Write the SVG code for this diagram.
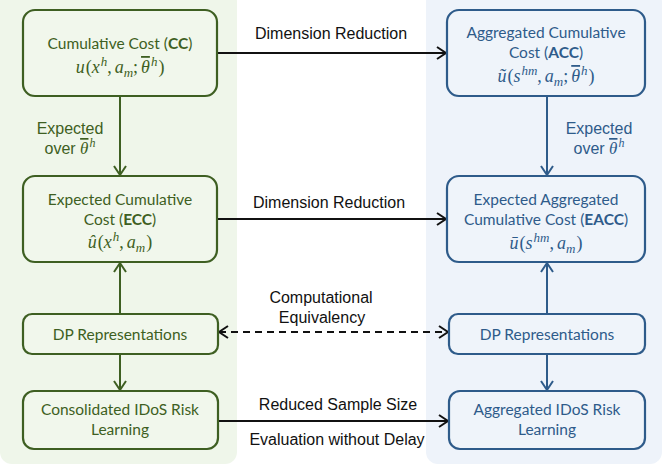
<svg xmlns="http://www.w3.org/2000/svg" width="664" height="465" viewBox="0 0 664 465">
<defs>
<style>
.gpanel{fill:#eff6ea}
.bpanel{fill:#eef3fa}
.gnode{fill:#f1f7ec;stroke:#3e5f22;stroke-width:2.2}
.bnode{fill:#eff4fa;stroke:#2e5b8a;stroke-width:2.2}
.gt{fill:#3e5f22;font-family:Lato,"Open Sans",sans-serif;font-size:15.5px;text-anchor:middle}
.bt{fill:#2e5b8a;font-family:Lato,"Open Sans",sans-serif;font-size:15.5px;text-anchor:middle}
.gm{fill:#3e5f22;font-family:"Liberation Serif",serif;font-style:italic;font-size:18px;text-anchor:middle}
.bm{fill:#2e5b8a;font-family:"Liberation Serif",serif;font-style:italic;font-size:18px;text-anchor:middle}
.up{font-style:normal}
.sp{font-size:13px}
.th{font-family:"Liberation Serif",serif;font-style:italic;text-decoration:overline}
.el{fill:#111;font-family:"Liberation Sans",Arial,sans-serif;font-size:16px;text-anchor:middle}
.gl{fill:#3e5f22;font-family:"Liberation Sans",Arial,sans-serif;font-size:16px;text-anchor:middle}
.bl{fill:#2e5b8a;font-family:"Liberation Sans",Arial,sans-serif;font-size:16px;text-anchor:middle}
.c{fill:none;stroke:#111;stroke-width:2}
.cg{fill:none;stroke:#3e5f22;stroke-width:2}
.cb{fill:none;stroke:#2e5b8a;stroke-width:2}
</style>
<marker id="ak" markerWidth="14" markerHeight="14" refX="11" refY="7" orient="auto-start-reverse" markerUnits="userSpaceOnUse"><path d="M2,1 L11,7 L2,13" fill="none" stroke="#111" stroke-width="2"/></marker>
<marker id="ag" markerWidth="14" markerHeight="14" refX="11" refY="7" orient="auto" markerUnits="userSpaceOnUse"><path d="M2,1 L11,7 L2,13" fill="none" stroke="#3e5f22" stroke-width="2"/></marker>
<marker id="ab" markerWidth="14" markerHeight="14" refX="11" refY="7" orient="auto" markerUnits="userSpaceOnUse"><path d="M2,1 L11,7 L2,13" fill="none" stroke="#2e5b8a" stroke-width="2"/></marker>
</defs>
<g id="panels">
<rect class="gpanel" x="0" y="-10" width="237" height="474" rx="12"/>
<rect class="bpanel" x="426" y="-10" width="236" height="474" rx="12"/>
</g>
<g id="connectors">
<line class="cg" x1="120" y1="96" x2="120" y2="175" marker-end="url(#ag)"/>
<line class="cg" x1="120" y1="314" x2="120" y2="263" marker-end="url(#ag)"/>
<line class="cg" x1="120" y1="354" x2="120" y2="390" marker-end="url(#ag)"/>
<line class="cb" x1="547" y1="96" x2="547" y2="175" marker-end="url(#ab)"/>
<line class="cb" x1="547" y1="314" x2="547" y2="263" marker-end="url(#ab)"/>
<line class="cb" x1="547" y1="354" x2="547" y2="390" marker-end="url(#ab)"/>
<line class="c" x1="217" y1="53" x2="446" y2="53" marker-end="url(#ak)"/>
<line class="c" x1="217" y1="219" x2="446" y2="219" marker-end="url(#ak)"/>
<line class="c" x1="219" y1="332" x2="448" y2="332" stroke-dasharray="7,5" marker-start="url(#ak)" marker-end="url(#ak)"/>
<line class="c" x1="218" y1="421" x2="448" y2="421" marker-end="url(#ak)"/>
<text class="el" x="331" y="39">Dimension Reduction</text>
<text class="el" x="329" y="208">Dimension Reduction</text>
<text class="el" x="321" y="303">Computational</text>
<text class="el" x="322" y="323">Equivalency</text>
<text class="el" x="338" y="410">Reduced Sample Size</text>
<text class="el" x="337" y="445">Evaluation without Delay</text>
<text class="gl" x="70" y="134">Expected</text>
<text class="gl" x="70" y="154">over <tspan class="th" font-size="17">θ</tspan><tspan font-family="Liberation Serif" font-style="italic" font-size="12" dx="1" dy="-7">h</tspan></text>
<text class="bl" x="599" y="134">Expected</text>
<text class="bl" x="599" y="154">over <tspan class="th" font-size="17">θ</tspan><tspan font-family="Liberation Serif" font-style="italic" font-size="12" dx="1" dy="-7">h</tspan></text>
</g>
<g id="cc">
<rect class="gnode" x="23" y="10" width="194" height="86" rx="12"/>
<text class="gt" x="120" y="49">Cumulative Cost (<tspan font-weight="bold">CC</tspan>)</text>
<text class="gm" x="120" y="73">u<tspan class="up" dx="1">(</tspan>x<tspan class="sp" dx="1" dy="-7">h</tspan><tspan class="up" dy="7">,</tspan><tspan dx="3">a</tspan><tspan class="sp" dy="4">m</tspan><tspan class="up" dy="-4">;</tspan><tspan class="th" dx="3">θ</tspan><tspan class="sp" dx="1" dy="-7">h</tspan><tspan class="up" dx="1" dy="7">)</tspan></text>
</g>
<g id="ecc">
<rect class="gnode" x="23" y="176" width="194" height="86" rx="12"/>
<text class="gt" x="120" y="205">Expected Cumulative</text>
<text class="gt" x="120" y="225">Cost (<tspan font-weight="bold">ECC</tspan>)</text>
<text class="gm" x="120" y="248">û<tspan class="up" dx="1">(</tspan>x<tspan class="sp" dx="1" dy="-7">h</tspan><tspan class="up" dy="7">,</tspan><tspan dx="3">a</tspan><tspan class="sp" dy="4">m</tspan><tspan class="up" dx="1" dy="-4">)</tspan></text>
</g>
<g id="dp-green">
<rect class="gnode" x="23" y="314" width="195" height="40" rx="9"/>
<text class="gt" x="120" y="340">DP Representations</text>
</g>
<g id="consolidated">
<rect class="gnode" x="23" y="391" width="195" height="58" rx="11"/>
<text class="gt" x="120" y="415">Consolidated IDoS Risk</text>
<text class="gt" x="120" y="435">Learning</text>
</g>
<g id="acc">
<rect class="bnode" x="447" y="10" width="198" height="86" rx="12"/>
<text class="bt" x="546" y="38">Aggregated Cumulative</text>
<text class="bt" x="546" y="58">Cost (<tspan font-weight="bold">ACC</tspan>)</text>
<text class="bm" x="546" y="82">ũ<tspan class="up" dx="1">(</tspan>s<tspan class="sp" dx="1" dy="-7">hm</tspan><tspan class="up" dy="7">,</tspan><tspan dx="3">a</tspan><tspan class="sp" dy="4">m</tspan><tspan class="up" dy="-4">;</tspan><tspan class="th" dx="3">θ</tspan><tspan class="sp" dx="1" dy="-7">h</tspan><tspan class="up" dx="1" dy="7">)</tspan></text>
</g>
<g id="eacc">
<rect class="bnode" x="447" y="176" width="198" height="86" rx="12"/>
<text class="bt" x="546" y="205">Expected Aggregated</text>
<text class="bt" x="546" y="225">Cumulative Cost (<tspan font-weight="bold">EACC</tspan>)</text>
<text class="bm" x="546" y="249">ū<tspan class="up" dx="1">(</tspan>s<tspan class="sp" dx="1" dy="-7">hm</tspan><tspan class="up" dy="7">,</tspan><tspan dx="3">a</tspan><tspan class="sp" dy="4">m</tspan><tspan class="up" dx="1" dy="-4">)</tspan></text>
</g>
<g id="dp-blue">
<rect class="bnode" x="449" y="314" width="196" height="40" rx="9"/>
<text class="bt" x="547" y="340">DP Representations</text>
</g>
<g id="aggregated">
<rect class="bnode" x="449" y="391" width="196" height="58" rx="11"/>
<text class="bt" x="547" y="415">Aggregated IDoS Risk</text>
<text class="bt" x="547" y="435">Learning</text>
</g>
</svg>
